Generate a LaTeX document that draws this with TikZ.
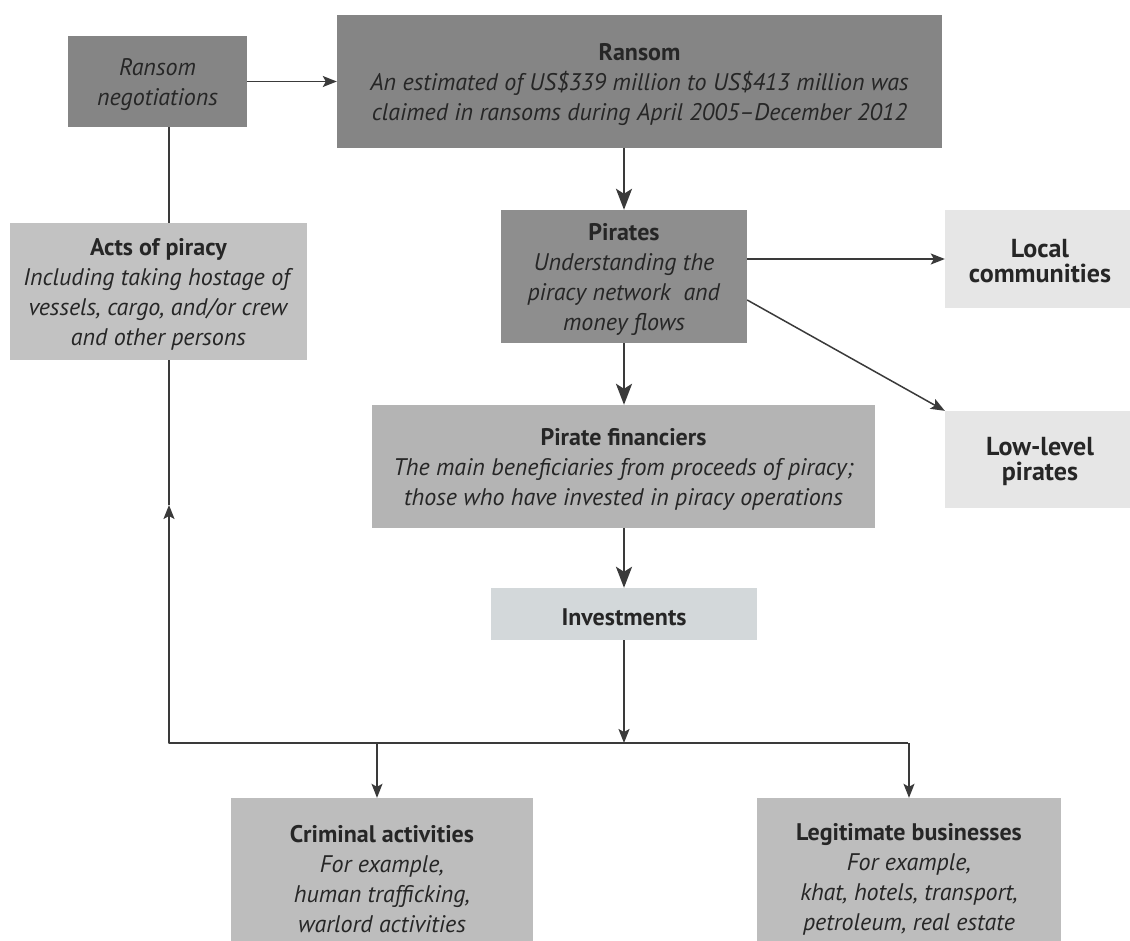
\documentclass[tikz,border=0pt]{standalone}
\usepackage{fontspec}
\setmainfont{PT Sans}
\usetikzlibrary{arrows.meta,calc}
\definecolor{cdark}{HTML}{858585}
\definecolor{cpir}{HTML}{8E8E8E}
\definecolor{cmid}{HTML}{B4B4B4}
\definecolor{cacts}{HTML}{C2C2C2}
\definecolor{cbot}{HTML}{BDBDBD}
\definecolor{clight}{HTML}{E6E6E6}
\definecolor{cinv}{HTML}{D3D8DA}
\definecolor{ctext}{HTML}{262626}
\definecolor{cline}{HTML}{3A3A3A}
\tikzset{
  box/.style={rectangle, inner sep=0pt},
  txt/.style={align=center, text=ctext, inner sep=0pt, yshift=-3pt,
    font=\fontsize{24}{30}\selectfont},
  bigtxt/.style={align=center, text=ctext, inner sep=0pt,
    font=\fontsize{26}{25}\selectfont\bfseries},
  thinarr/.style={draw=cline, line width=1.5pt, -{Stealth[length=14pt,width=11pt,inset=3pt]}},
  thickarr/.style={draw=cline, line width=2.6pt, -{Stealth[length=21pt,width=16pt,inset=5pt]}},
  plainline/.style={draw=cline, line width=1.5pt},
}
\begin{document}
\begin{tikzpicture}[x=1pt,y=-1pt]
\useasboundingbox (0,0) rectangle (1130,940);
\node[box, fill=cdark, minimum width=179pt, minimum height=91pt,
  label={[txt]center:{\textit{Ransom}\\ \textit{negotiations}}}] (neg) at (157.5,81.5) {};
\node[box, fill=cdark, minimum width=605pt, minimum height=133pt,
  label={[txt]center:{\textbf{Ransom}\\ \textit{An estimated of US\$339 million to US\$413 million was}\\ \textit{claimed in ransoms during April 2005--December 2012}}}] (ransom) at (639.5,81.5) {};
\node[box, fill=cacts, minimum width=297pt, minimum height=137pt,
  label={[txt]center:{\textbf{Acts of piracy}\\ \textit{Including taking hostage of}\\ \textit{vessels, cargo, and/or crew}\\ \textit{and other persons}}}] (acts) at (158.5,291.5) {};
\node[box, fill=cpir, minimum width=246pt, minimum height=133pt,
  label={[txt]center:{\textbf{Pirates}\\ \textit{Understanding the}\\ \textit{piracy network \ and}\\ \textit{money flows}}}] (pirates) at (624,276.5) {};
\node[box, fill=clight, minimum width=190pt, minimum height=98pt,
  label={[bigtxt, yshift=-2pt]center:{Local\\ communities}}] (local) at (1040,259) {};
\node[box, fill=cmid, minimum width=503pt, minimum height=123pt,
  label={[txt]center:{\textbf{Pirate financiers}\\ \textit{The main beneficiaries from proceeds of piracy;}\\ \textit{those who have invested in piracy operations}}}] (fin) at (623.5,466.5) {};
\node[box, fill=clight, minimum width=190pt, minimum height=97pt,
  label={[bigtxt, yshift=-2pt]center:{Low-level\\ pirates}}] (low) at (1040,459.5) {};
\node[box, fill=cinv, minimum width=266pt, minimum height=52pt,
  label={[txt, yshift=0pt]center:{\textbf{Investments}}}] (inv) at (624,614) {};
\node[box, fill=cbot, minimum width=302pt, minimum height=157pt,
  label={[txt]center:{\textbf{Criminal activities}\\ \textit{For example,}\\ \textit{human trafficking,}\\ \textit{warlord activities}}}] (crim) at (382,876.5) {};
\node[box, fill=cbot, minimum width=304pt, minimum height=157pt,
  label={[txt]center:{\textbf{Legitimate businesses}\\ \textit{For example,}\\ \textit{khat, hotels, transport,}\\ \textit{petroleum, real estate}}}] (legit) at (909,876.5) {};
\coordinate (bl) at (169,743);
\coordinate (br) at (908,743);
\coordinate (up) at (169,505);
\coordinate (jn) at (624,743);
\coordinate (cj) at (377,743);
% connectors
\draw[thinarr] (neg.east) -- (ransom.west);
\draw[thickarr] (pirates.north |- ransom.south) -- (pirates.north);
\draw[thinarr] (local.west -| pirates.east) -- (local.west);
\draw[thinarr] ([yshift=-23.5pt]pirates.east) -- (low.north west);
\draw[thickarr] (pirates.south) -- (fin.north -| pirates.south);
\draw[thickarr] (inv.north |- fin.south) -- (inv.north);
\draw[thinarr] (inv.south) -- (jn);
\draw[plainline, line join=round] (br) -- (bl);
\draw[thinarr, line join=round] (jn) -- (bl) -- (up);
\draw[plainline] (up) -- (bl |- acts.south);
\draw[thinarr] (cj) -- (cj |- crim.north);
\draw[thinarr] (legit.north |- bl) -- (legit.north);
\draw[plainline] (bl |- acts.north) -- (bl |- neg.south);
\end{tikzpicture}
\end{document}
